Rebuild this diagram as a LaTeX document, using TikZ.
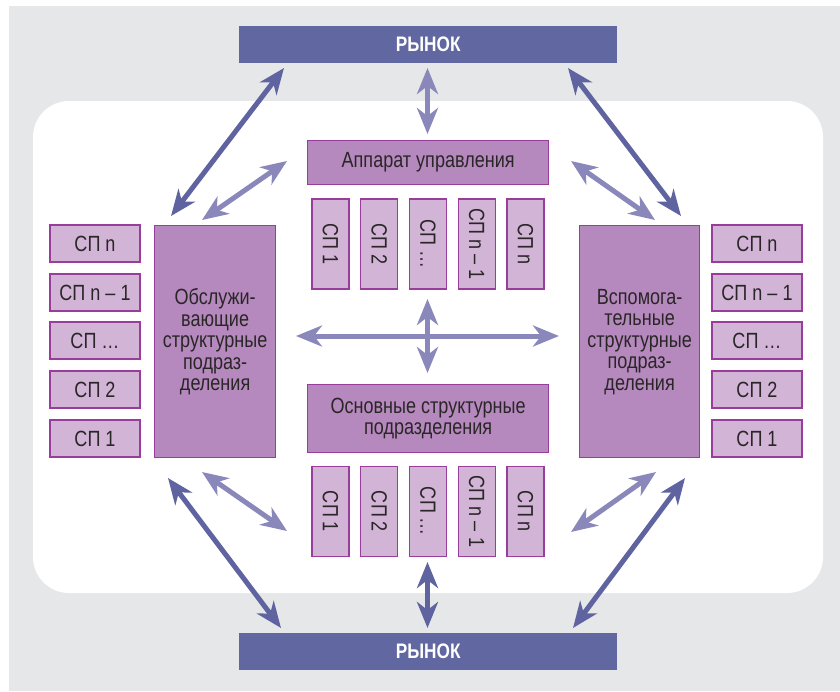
\documentclass[tikz,border=0pt]{standalone}
\usepackage{fontspec}
\setmainfont{Liberation Sans}[FakeStretch=0.82]
\usetikzlibrary{arrows.meta}
\definecolor{greybg}{HTML}{E6E7E9}
\definecolor{barc}{HTML}{6167A0}
\definecolor{darr}{HTML}{5F64A0}
\definecolor{larr}{HTML}{8A88BA}
\definecolor{bigf}{HTML}{B589BD}
\definecolor{smallf}{HTML}{D2B4D7}
\definecolor{edgec}{HTML}{993D9C}
\definecolor{txtc}{HTML}{2A2627}
\tikzset{
  lbl/.style={font=\fontsize{22}{21.5}\selectfont, text=txtc, align=center, inner sep=0pt},
  bigbox/.style={lbl, draw=edgec, fill=bigf, line width=1.3pt, anchor=north west},
  smallbox/.style={lbl, draw=edgec, fill=smallf, line width=1.3pt},
  hsp/.style={smallbox, minimum width=90pt, minimum height=37pt},
  vsp/.style={smallbox, rotate=-90, minimum width=90pt, minimum height=37pt},
  barbox/.style={fill=barc, text=white, font=\bfseries\fontsize{21}{21.5}\selectfont, inner sep=0pt, minimum width=378pt, minimum height=37pt, anchor=north west},
  tipd/.tip={Stealth[length=26pt,width=21pt,inset=8pt]},
  dblarrow/.style={line width=5pt, tipd-tipd},
  darkarrow/.style={dblarrow, draw=darr},
  lightarrow/.style={dblarrow, draw=larr},
}
\begin{document}
\begin{tikzpicture}[x=1pt,y=-1pt]
\useasboundingbox (0,0) rectangle (840,691);
\fill[white] (0,0) rectangle (840,691);
\fill[greybg] (9,6) rectangle (840,691);
\fill[white, rounded corners=36pt] (33,101) rectangle (823,593);

% market bars
\node[barbox] (mtop) at (239,26) {РЫНОК};
\node[barbox] (mbot) at (239,633) {РЫНОК};

% central boxes
\node[bigbox, minimum width=241pt, minimum height=44pt] (app) at (307,140) {Аппарат управления};
\node[bigbox, minimum width=241pt, minimum height=68pt] (osn) at (307,384) {Основные структурные\\подразделения};

% side big boxes
\node[bigbox, minimum width=121pt, minimum height=232pt] (obs) at (154,225) {Обслужи-\\вающие\\структурные\\подраз-\\деления};
\node[bigbox, minimum width=120pt, minimum height=232pt] (vsp) at (579,225) {Вспомога-\\тельные\\структурные\\подраз-\\деления};

% left small boxes
\node[hsp] (l5) at (95,243.5) {СП n};
\node[hsp] (l4) at (95,292.5) {СП n – 1};
\node[hsp] (l3) at (95,340.5) {СП …};
\node[hsp] (l2) at (95,389.5) {СП 2};
\node[hsp] (l1) at (95,438.5) {СП 1};
% right small boxes
\node[hsp] (r5) at (757,243.5) {СП n};
\node[hsp] (r4) at (757,292.5) {СП n – 1};
\node[hsp] (r3) at (757,340.5) {СП …};
\node[hsp] (r2) at (757,389.5) {СП 2};
\node[hsp] (r1) at (757,438.5) {СП 1};

% top vertical SP boxes
\node[vsp] (t1) at (330.5,244) {СП 1};
\node[vsp] (t2) at (379.25,244) {СП 2};
\node[vsp] (t3) at (428,244) {СП …};
\node[vsp] (t4) at (476.75,244) {СП n – 1};
\node[vsp] (t5) at (525.5,244) {СП n};
% bottom vertical SP boxes
\node[vsp] (b1) at (330.5,511.5) {СП 1};
\node[vsp] (b2) at (379.25,511.5) {СП 2};
\node[vsp] (b3) at (428,511.5) {СП …};
\node[vsp] (b4) at (476.75,511.5) {СП n – 1};
\node[vsp] (b5) at (525.5,511.5) {СП n};

% arrow end points
\coordinate (tlA) at (171,216);  \coordinate (tlB) at (284,68);
\coordinate (trA) at (568,68);   \coordinate (trB) at (681,216);
\coordinate (blA) at (168,478);  \coordinate (blB) at (281,628);
\coordinate (brA) at (685,478);  \coordinate (brB) at (573,628);
\coordinate (tlc) at (202,220);  \coordinate (tld) at (287,161);
\coordinate (trc) at (571,161);  \coordinate (trd) at (655,220);
\coordinate (blc) at (202,472);  \coordinate (bld) at (287,531);
\coordinate (brc) at (656,472);  \coordinate (brd) at (571,532);
\coordinate (vtA) at (427.5,68);  \coordinate (vtB) at (427.5,134);
\coordinate (vbA) at (427.5,562); \coordinate (vbB) at (427.5,628);
\coordinate (hA) at (296,336);  \coordinate (hB) at (559,336);
\coordinate (cA) at (427.5,299); \coordinate (cB) at (427.5,373);

\draw[darkarrow] (tlA) -- (tlB);
\draw[darkarrow] (trA) -- (trB);
\draw[darkarrow] (blA) -- (blB);
\draw[darkarrow] (brA) -- (brB);
\draw[lightarrow] (tlc) -- (tld);
\draw[lightarrow] (trc) -- (trd);
\draw[lightarrow] (blc) -- (bld);
\draw[lightarrow] (brc) -- (brd);
\draw[lightarrow] (vtA) -- (vtB);
\draw[darkarrow] (vbA) -- (vbB);
\draw[lightarrow] (hA) -- (hB);
\draw[lightarrow] (cA) -- (cB);
\end{tikzpicture}
\end{document}
